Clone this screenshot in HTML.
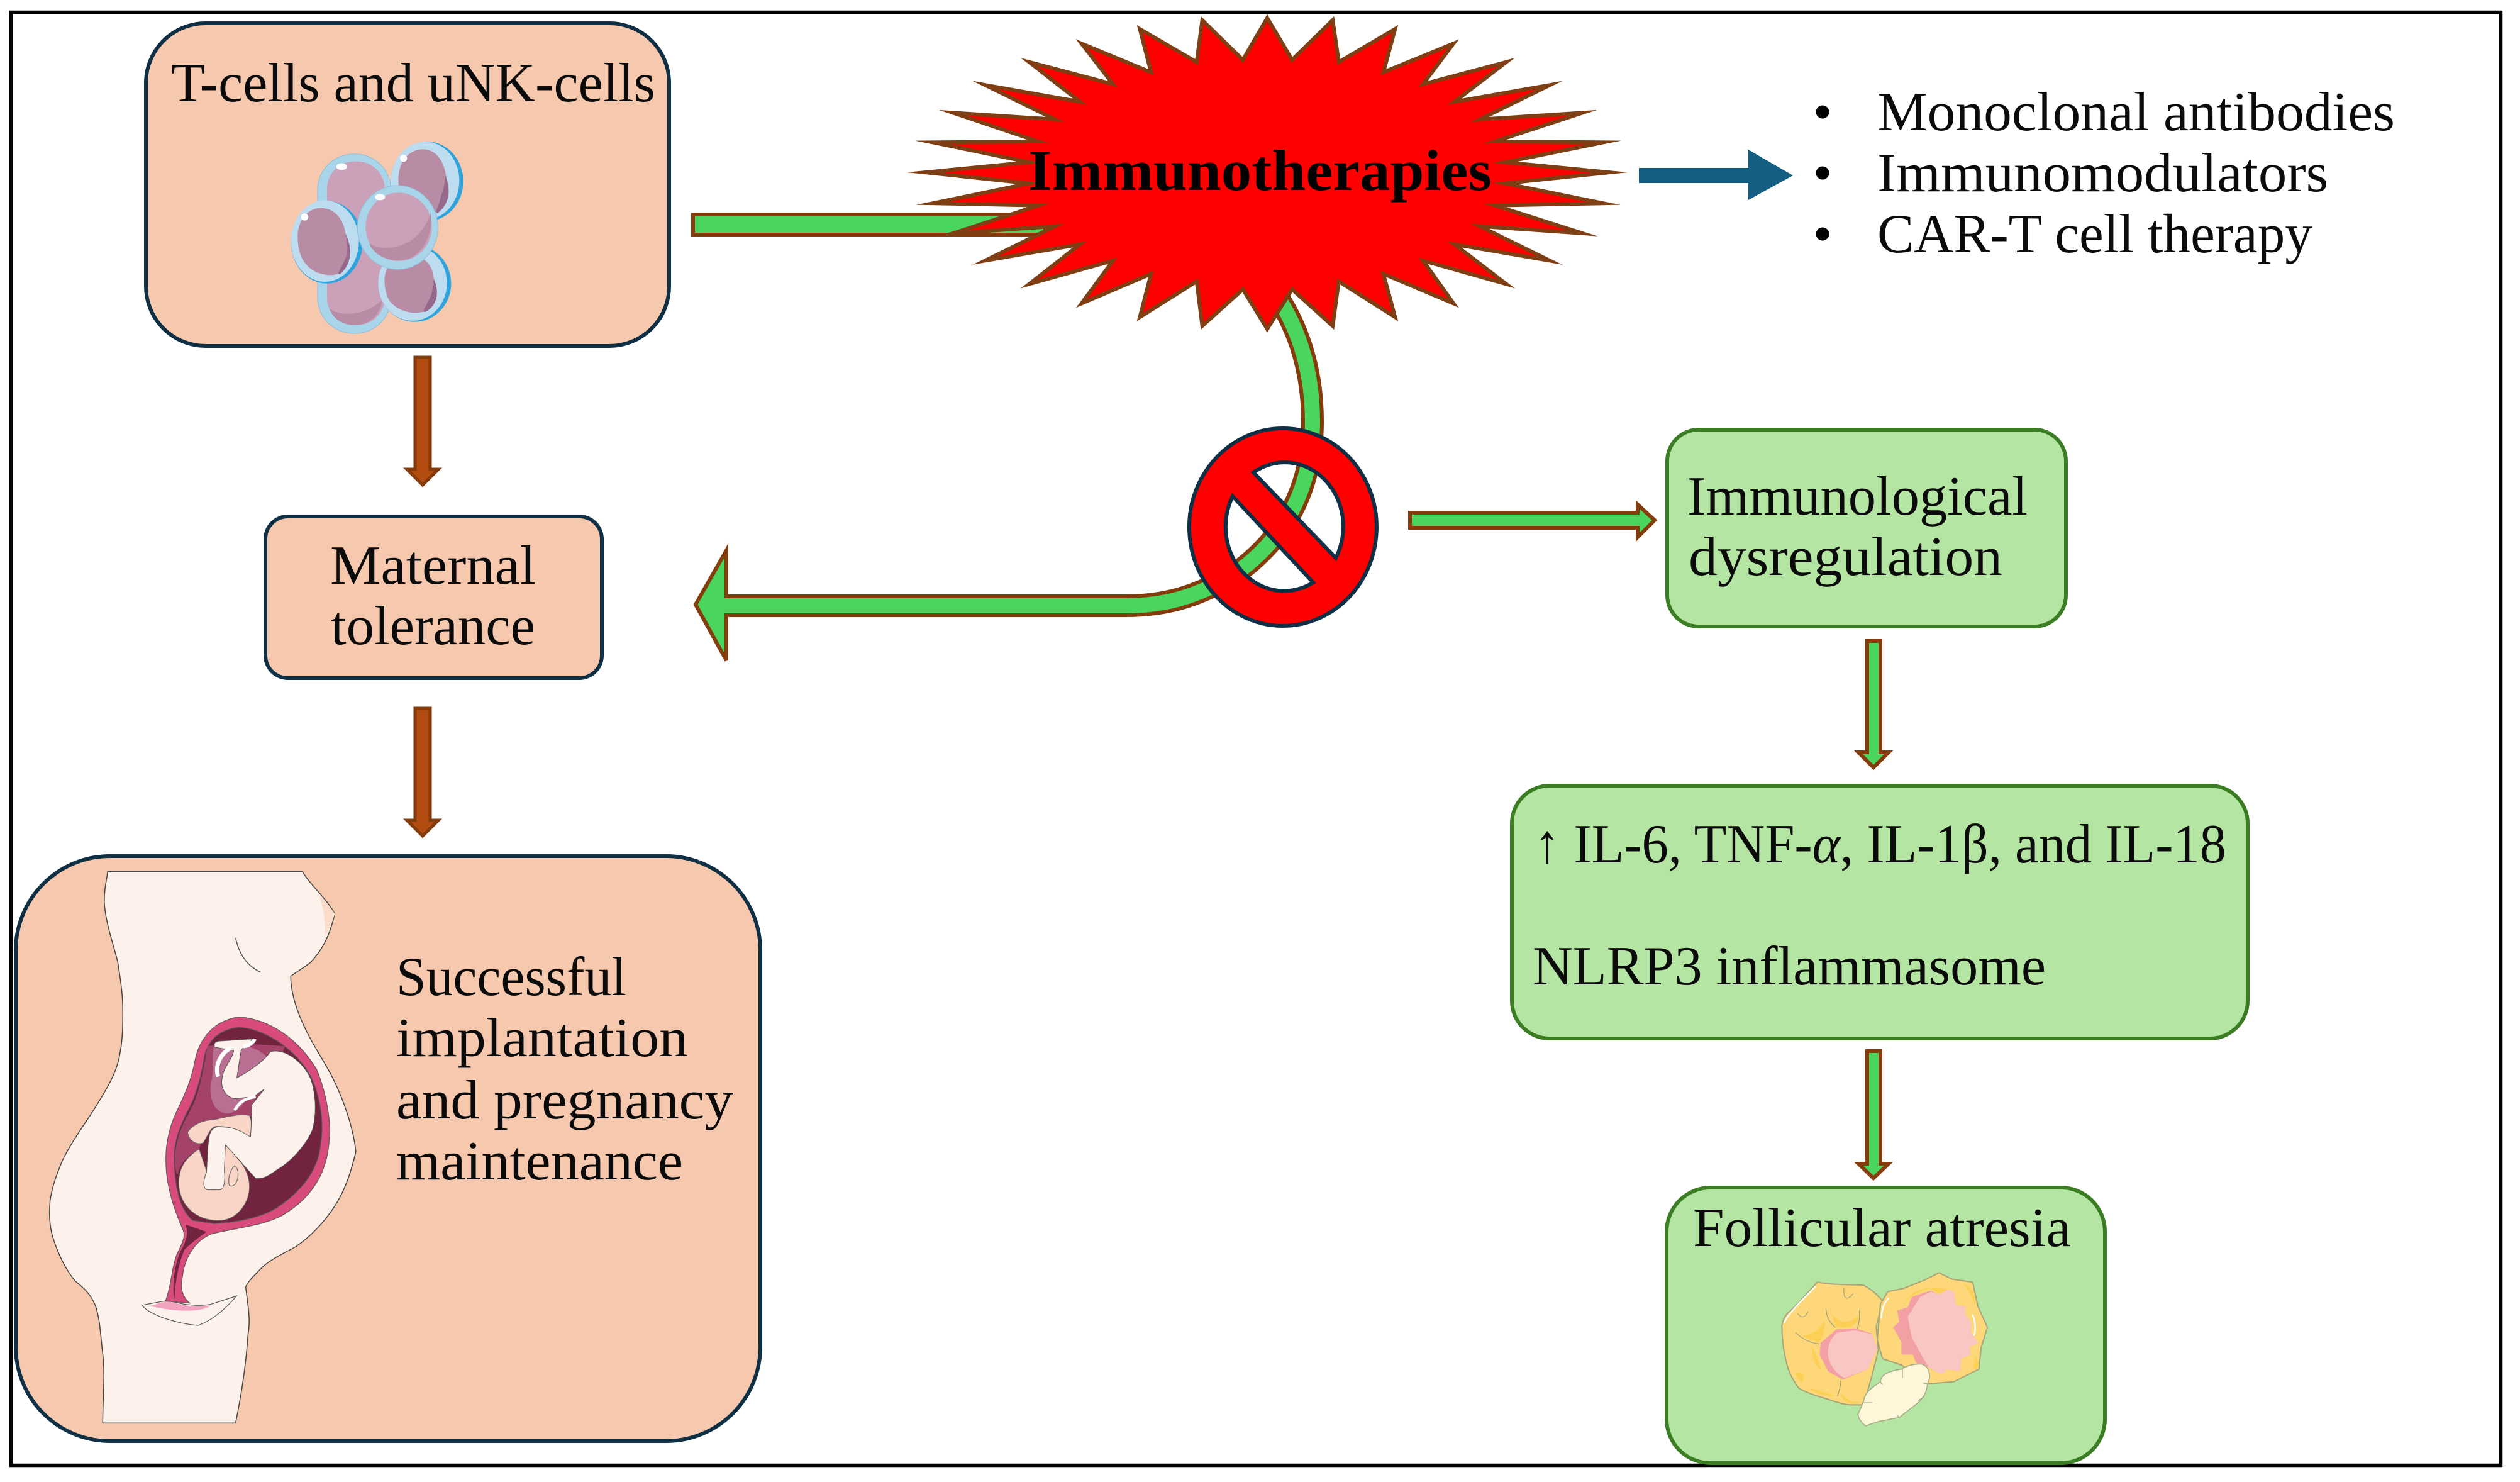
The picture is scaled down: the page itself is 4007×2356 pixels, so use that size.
<!DOCTYPE html>
<html><head><meta charset="utf-8"><style>
html,body{margin:0;padding:0;background:#fff}
svg{display:block}
text{font-family:"Liberation Serif",serif;fill:#0b0b0b;font-size:88px}
.n{vector-effect:non-scaling-stroke}
</style></head><body>
<svg xmlns="http://www.w3.org/2000/svg" width="4007" height="2356" viewBox="0 0 4007 2356">
<rect width="4007" height="2356" fill="#fff"/>
<rect x="17.5" y="19.5" width="3959" height="2310" fill="#fff" stroke="#000" stroke-width="5.5"/>

<!-- T-cell box -->
<rect x="232" y="37" width="832" height="513" rx="95" ry="95" fill="#F6C8AD" stroke="#0E2F44" stroke-width="6"/>
<text x="272" y="161" textLength="770" lengthAdjust="spacingAndGlyphs">T-cells and uNK-cells</text>
<g transform="translate(440,210) scale(.33333)">
<rect x="195" y="105" width="350" height="855" rx="170" ry="170" fill="#A8D5EA" stroke="#8FBFD8" stroke-width="3"/>
<rect x="240" y="140" width="275" height="780" rx="130" ry="130" fill="#CBA0B9"/>
<path d="M250,840 C300,880 420,880 505,800 C490,880 440,920 370,920 C310,920 270,890 250,840 Z" fill="#B98CA6"/>
<ellipse cx="310" cy="165" rx="26" ry="16" fill="#fff"/>
<!-- upper right -->
<ellipse cx="717" cy="235" rx="173" ry="190" fill="#2FA4DC"/>
<ellipse cx="708" cy="232" rx="163" ry="186" fill="#BEDCF0"/>
<path d="M580,230 C580,130 640,80 700,82 C770,85 800,150 810,220 C830,280 825,340 770,380 C700,400 640,370 610,320 C590,290 580,260 580,230 Z" fill="#B98CA6"/>
<path d="M805,210 C830,280 825,340 770,385 C745,395 780,340 785,300 C800,270 800,240 805,210 Z" fill="#96688A"/>
<circle cx="605" cy="125" r="17" fill="#fff"/>
<!-- lower right -->
<ellipse cx="658" cy="722" rx="174" ry="183" fill="#2FA4DC"/>
<ellipse cx="648" cy="720" rx="164" ry="180" fill="#BEDCF0"/>
<path d="M515,690 C520,640 560,590 640,590 C710,590 745,640 750,700 C770,760 770,810 720,850 C650,880 560,850 530,790 C518,760 512,720 515,690 Z" fill="#B98CA6"/>
<path d="M750,700 C775,760 770,820 715,855 C680,870 720,820 735,780 C745,755 745,725 750,700 Z" fill="#96688A"/>
<!-- left -->
<ellipse cx="239" cy="525" rx="171" ry="197" fill="#2FA4DC"/>
<ellipse cx="230" cy="520" rx="162" ry="194" fill="#BEDCF0"/>
<path d="M100,500 C100,420 150,362 210,362 C280,362 320,420 330,490 C360,550 360,620 310,670 C240,700 160,670 125,610 C108,580 100,540 100,500 Z" fill="#B98CA6"/>
<path d="M328,485 C360,550 360,625 305,675 C275,690 320,630 335,585 C340,550 335,520 328,485 Z" fill="#96688A"/>
<circle cx="133" cy="405" r="17" fill="#fff"/>
<!-- centre -->
<ellipse cx="577" cy="455" rx="192" ry="200" fill="#A8D5EA" stroke="#8FBFD8" stroke-width="3"/>
<ellipse cx="582" cy="452" rx="158" ry="163" fill="#CBA0B9"/>
<path d="M440,530 C500,570 620,560 690,470 C710,440 725,420 735,385 C745,480 710,560 640,600 C560,630 470,600 440,530 Z" fill="#B98CA6"/>
<ellipse cx="493" cy="310" rx="24" ry="15" fill="#fff"/>
</g>

<!-- Brown arrows -->
<polygon points="660,568 684,568 684,746 697,746 672,771 647,746 660,746" fill="#B24C10" stroke="#843C0C" stroke-width="5"/>
<polygon points="660,1126 684,1126 684,1304 697,1304 672,1329 647,1304 660,1304" fill="#B24C10" stroke="#843C0C" stroke-width="5"/>

<!-- Maternal tolerance -->
<rect x="422" y="821" width="535" height="257" rx="36" ry="36" fill="#F6C8AD" stroke="#0E2F44" stroke-width="6"/>
<text x="525" y="928" textLength="327" lengthAdjust="spacingAndGlyphs">Maternal</text>
<text x="526" y="1024" textLength="325" lengthAdjust="spacingAndGlyphs">tolerance</text>

<!-- Pregnancy box -->
<rect x="25" y="1361" width="1184" height="930" rx="150" ry="150" fill="#F6C8AD" stroke="#0E2F44" stroke-width="6"/>
<text x="630" y="1582" textLength="366" lengthAdjust="spacingAndGlyphs">Successful</text>
<text x="630" y="1679" textLength="464" lengthAdjust="spacingAndGlyphs">implantation</text>
<text x="630" y="1778" textLength="536" lengthAdjust="spacingAndGlyphs">and pregnancy</text>
<text x="630" y="1875" textLength="456" lengthAdjust="spacingAndGlyphs">maintenance</text>

<g transform="translate(0,1350) scale(.797,.6416)">
<path class="n" d="M215,55 L603,55 C620,90 650,120 668,160 C660,200 650,240 620,280 C605,295 590,305 580,315 C580,350 590,390 600,420 C620,480 650,530 665,570 C685,620 705,690 710,750 C700,800 690,840 670,880 C650,920 620,960 590,985 C560,1005 535,1020 520,1040 C505,1060 495,1070 490,1085 C495,1130 500,1170 495,1200 C490,1290 480,1360 470,1422 L205,1422 C205,1360 210,1300 205,1250 C200,1200 200,1165 190,1130 C180,1100 165,1085 150,1070 C130,1040 115,1000 105,960 C98,930 98,900 100,870 C105,830 115,800 125,770 C145,720 170,680 190,640 C215,590 235,550 240,500 C245,470 245,430 245,400 C245,360 240,320 235,280 C225,230 210,180 208,130 C208,100 212,80 215,55 Z" fill="#FDF1EC" stroke="#444" stroke-width="1.5"/>
<path class="n" d="M470,220 C478,265 495,290 520,305" fill="none" stroke="#555" stroke-width="1.5"/>
<path d="M635,110 C650,130 660,145 668,160 C662,185 655,200 648,215 C650,180 645,140 635,110 Z" fill="#FBDCCB"/>
<path class="n" d="M283,1130 L335,1118 C355,1125 385,1135 420,1128 L472,1107 C450,1140 420,1170 395,1180 C350,1175 300,1155 283,1130 Z" fill="#FDF1EC" stroke="#555" stroke-width="1.2"/>
<path d="M300,1132 L335,1118 C355,1128 385,1138 420,1130 C410,1145 360,1150 300,1132 Z" fill="#F2A3BF"/>
</g>

<g transform="translate(240,1600) scale(.33333)">
<path d="M420,50 C560,60 700,150 790,300 C840,420 860,560 850,640 C840,800 760,920 620,1000 C520,1050 380,1060 290,1085 C220,1110 160,1190 150,1290 C140,1340 145,1380 185,1415 L70,1405 C100,1320 100,1240 125,1180 C150,1130 165,1100 155,1070 C130,1010 90,920 75,800 C65,700 75,620 110,530 C150,440 190,370 210,260 C225,180 280,70 420,50 Z" fill="#D94B7C" stroke="#6a5a5a" stroke-width="4"/>
<path d="M420,100 C530,105 680,190 760,330 C810,430 825,560 810,650 C800,780 720,880 600,960 C520,1010 400,1030 300,1035 L200,1020 C150,980 120,900 112,760 C105,660 130,590 175,500 C220,420 240,330 255,240 C270,170 320,110 420,100 Z" fill="#72243F" stroke="#555" stroke-width="4"/>
<path d="M270,190 C350,170 500,180 640,190 L500,520 L175,600 C150,580 170,530 190,490 C230,420 250,300 270,190 Z" fill="#A54269"/>
<path d="M300,190 C400,170 520,190 560,250 C500,320 480,470 380,510 C300,520 270,430 290,350 C300,290 290,240 300,190 Z" fill="#B86F92"/>
<path d="M115,760 C110,680 130,600 175,520 L250,620 L230,680 C180,710 140,740 125,810 Z" fill="#A54269"/>
<path d="M230,680 C150,730 125,790 135,870 C150,970 240,1030 340,1020 C420,1010 470,930 470,860 C470,810 450,770 420,730 L355,660 L270,800 Z" fill="#F8D5C6" stroke="#666" stroke-width="3"/>
<path d="M175,600 C200,560 260,540 300,540 C350,530 420,510 470,520 C485,560 485,590 470,622 C420,590 370,570 310,572 C280,580 270,620 250,650 C220,665 180,640 175,600 Z" fill="#F8D5C6" stroke="#666" stroke-width="3"/>
<path d="M430,210 L410,340 C470,310 540,260 570,215 C640,200 720,260 760,340 C790,420 790,520 770,590 C740,660 670,740 600,780 C560,810 530,825 500,820 C470,790 420,730 355,660 L350,780 C355,830 350,870 330,875 L270,875 C250,870 245,840 265,790 C270,720 270,650 280,610 C290,580 310,570 340,575 C400,575 440,600 475,622 C480,560 480,500 480,470 L540,395 L490,430 L400,440 C350,430 330,380 340,340 C345,290 390,250 395,210 L305,195 C295,175 310,165 330,165 L480,155 C480,180 440,190 430,210 Z" fill="#FDF1EC" stroke="#555" stroke-width="3"/>
<path d="M320,335 C305,280 330,225 385,195" fill="none" stroke="#fff" stroke-width="20"/>
<path d="M440,190 C465,190 490,170 495,155" fill="none" stroke="#fff" stroke-width="18"/>
<path d="M400,495 C420,460 440,440 500,430" fill="none" stroke="#fff" stroke-width="14"/>
<path d="M400,760 C375,780 365,830 375,855 C400,865 420,830 415,785 C410,770 405,765 400,760 Z" fill="none" stroke="#777" stroke-width="4"/>
<path d="M165,1040 L265,1075 C230,1100 190,1130 160,1160 C130,1230 115,1320 112,1400 C100,1340 110,1240 140,1170 C170,1120 180,1080 165,1040 Z" fill="#72243F"/>
</g>

<!-- Curved arrow (under burst and prohibition sign) -->
<path d="M2030,470 C2070,530 2087,600 2087,670 C2087,780 2040,860 1960,915 C1900,950 1850,963 1790,963 L1160,963" fill="none" stroke="#843C0C" stroke-width="36"/>
<path d="M2030,470 C2070,530 2087,600 2087,670 C2087,780 2040,860 1960,915 C1900,950 1850,963 1790,963 L1160,963" fill="none" stroke="#4AD65C" stroke-width="24"/>
<polygon points="1106,961 1155,875 1155,948 1200,948 1200,978 1155,978 1155,1050" fill="#4AD65C" stroke="#843C0C" stroke-width="6"/>
<rect x="1152" y="951" width="60" height="24" fill="#4AD65C"/>

<!-- Top green bar -->
<rect x="1102" y="341" width="560" height="32" fill="#4AD65C" stroke="#843C0C" stroke-width="6"/>

<!-- Starburst -->
<g transform="translate(1417,4) scale(.807,.7015)">
<polygon class="n" fill="#FF0000" stroke="#7F3F15" stroke-width="6" stroke-miterlimit="10" points="741,35 790,130 870,40 882,135 993,60 970,158 1108,93 1048,185 1212,135 1110,225 1298,187 1160,265 1362,250 1190,315 1403,317 1210,362 1415,385 1210,410 1403,455 1190,460 1362,523 1160,507 1298,585 1110,548 1212,638 1048,585 1108,682 970,615 993,713 882,632 870,733 790,650 741,740 693,650 613,733 602,632 490,713 512,615 375,682 437,585 272,638 372,548 185,585 323,507 122,523 290,460 82,455 272,410 67,385 272,362 82,317 290,315 122,250 323,265 185,187 372,225 272,135 437,185 375,93 512,158 490,60 602,135 613,40 693,130"/>
</g>
<text x="1635" y="302" textLength="737" lengthAdjust="spacingAndGlyphs" font-weight="700" style="font-size:92px;fill:#000">Immunotherapies</text>

<!-- Prohibition sign -->
<path fill-rule="evenodd" d="M2040,681 A149,157 0 1 1 2039.9,681 Z M1993,751 A93,102 0 0 1 2124,887 Z M1960,789 A93,102 0 0 0 2088,926 Z" fill="#FF0000" stroke="#0E2F44" stroke-width="6"/>

<!-- Blue arrow -->
<polygon points="2606,267 2780,267 2780,238 2851,279 2780,318 2780,291 2606,291" fill="#156082"/>

<!-- List -->
<circle cx="2898" cy="178" r="10.5" fill="#000"/>
<circle cx="2898" cy="275" r="10.5" fill="#000"/>
<circle cx="2898" cy="372" r="10.5" fill="#000"/>
<text x="2985" y="207" textLength="823" lengthAdjust="spacingAndGlyphs">Monoclonal antibodies</text>
<text x="2985" y="304" textLength="717" lengthAdjust="spacingAndGlyphs">Immunomodulators</text>
<text x="2985" y="401" textLength="692" lengthAdjust="spacingAndGlyphs">CAR-T cell therapy</text>

<!-- Right arrow to Immunological -->
<polygon points="2242,815 2604,815 2604,802 2631,827 2604,854 2604,839 2242,839" fill="#4AD65C" stroke="#843C0C" stroke-width="6"/>

<!-- Immunological box -->
<rect x="2651" y="683" width="634" height="313" rx="50" ry="50" fill="#B4E5A2" stroke="#3B7D23" stroke-width="6"/>
<text x="2683" y="818" textLength="541" lengthAdjust="spacingAndGlyphs">Immunological</text>
<text x="2685" y="914" textLength="499" lengthAdjust="spacingAndGlyphs">dysregulation</text>

<polygon points="2969,1019 2990,1019 2990,1196 3003,1196 2979,1220 2955,1196 2969,1196" fill="#4AD65C" stroke="#843C0C" stroke-width="6"/>

<!-- Cytokine box -->
<rect x="2404" y="1249" width="1170" height="402" rx="60" ry="60" fill="#B4E5A2" stroke="#3B7D23" stroke-width="6"/>
<text x="2439" y="1371" textLength="1101" lengthAdjust="spacingAndGlyphs">↑ IL-6, TNF-<tspan font-style="italic">α</tspan>, IL-1β, and IL-18</text>
<text x="2437" y="1565" textLength="816" lengthAdjust="spacingAndGlyphs">NLRP3 inflammasome</text>

<polygon points="2969,1671 2990,1671 2990,1850 3003,1850 2979,1873 2955,1850 2969,1850" fill="#4AD65C" stroke="#843C0C" stroke-width="6"/>

<!-- Follicular box -->
<rect x="2650" y="1888" width="697" height="438" rx="70" ry="70" fill="#B4E5A2" stroke="#3B7D23" stroke-width="6"/>
<text x="2692" y="1981" textLength="601" lengthAdjust="spacingAndGlyphs">Follicular atresia</text>

<g transform="translate(2820,2020) scale(.33333)" stroke-linejoin="round">
<path d="M210,55 C290,70 370,65 430,70 C470,90 500,120 520,145 L490,270 L500,380 L470,500 L430,640 L370,640 C340,640 310,630 280,620 C220,600 170,590 120,560 C90,520 70,480 60,430 C45,370 40,310 40,260 C45,235 55,215 70,200 C120,160 165,100 210,55 Z" fill="#FDD77A" stroke="#A8A678" stroke-width="6"/>
<path d="M50,250 C80,190 140,140 200,75" fill="none" stroke="#fff" stroke-width="7"/>
<path d="M280,205 C305,250 370,260 405,210 C405,265 350,285 295,262 C288,240 282,225 280,205 Z M135,310 C180,308 220,280 245,240 C248,285 230,330 215,340 C180,332 155,322 135,310 Z M185,365 C210,400 212,445 235,475 C200,465 182,410 185,365 Z M170,562 C210,565 265,588 295,598 C250,598 205,588 170,562 Z M325,585 C345,612 370,628 415,628 C370,645 325,628 325,585 Z M105,492 C120,478 145,490 148,508 L135,535 C122,520 112,505 105,492 Z" fill="#FCCF55"/>
<path d="M105,295 C140,330 180,345 220,350 M250,180 C255,230 270,250 295,270 M410,190 C410,230 410,250 400,275 M335,85 C335,130 345,150 380,110 M115,205 C130,225 150,230 165,195 M320,525 C320,560 310,585 305,600" fill="none" stroke="#A8A678" stroke-width="4"/>
<path d="M300,280 L390,275 L470,300 L495,370 L450,470 L330,520 L260,480 L220,400 L225,345 Z" fill="#F2A0A4"/>
<path d="M305,295 L390,285 L470,302 L495,370 L450,470 L340,512 C290,490 255,430 260,380 C265,340 280,315 305,295 Z" fill="#F8C6C3"/>
<path d="M790,10 L850,40 L950,55 L975,170 L1020,270 L990,370 L980,470 L860,530 L740,540 L610,450 L520,420 L495,330 L510,160 L545,100 L620,85 L720,45 Z" fill="#FDD77A" stroke="#A8A678" stroke-width="6"/>
<path d="M515,230 C515,180 530,150 550,130 M950,210 C965,250 965,290 955,310" fill="none" stroke="#fff" stroke-width="7"/>
<path d="M620,160 C650,120 700,95 750,85 L790,110 L830,90 C800,80 760,85 720,85 C680,95 640,120 620,160 Z M905,60 C940,70 965,110 965,170 C945,120 930,90 905,60 Z M950,460 C965,430 965,400 965,400 L980,450 C975,470 960,475 950,460 Z" fill="#FCCF55"/>
<polygon points="660,125 750,95 790,115 830,90 860,100 870,165 915,170 915,210 945,250 940,290 975,345 935,365 940,400 895,420 890,480 830,470 800,495 740,460 680,440 665,400 610,400 610,340 570,270 600,245 590,190 640,175" fill="#F2A0A4"/>
<polygon points="700,125 750,100 790,115 830,90 860,100 870,165 915,170 915,210 945,250 940,290 975,345 935,365 940,400 895,420 890,480 830,470 800,495 740,460 710,410 660,320 640,220" fill="#F8C6C3"/>
<path d="M610,470 C640,450 680,445 700,445 C735,450 745,480 745,510 L735,540 C730,580 720,600 690,630 L600,700 L500,720 L440,740 C410,720 400,690 405,680 C420,650 430,620 430,620 C435,590 450,570 510,530 C510,500 540,480 610,470 Z" fill="#FDF6D8" stroke="#A8AE8A" stroke-width="5"/>
<path d="M615,470 L615,510 M710,535 L735,540 M690,620 L720,600 M590,690 L600,700 M430,630 L470,630 M510,530 L520,545" fill="none" stroke="#A8AE8A" stroke-width="4"/>
</g>
</svg>
</body></html>
